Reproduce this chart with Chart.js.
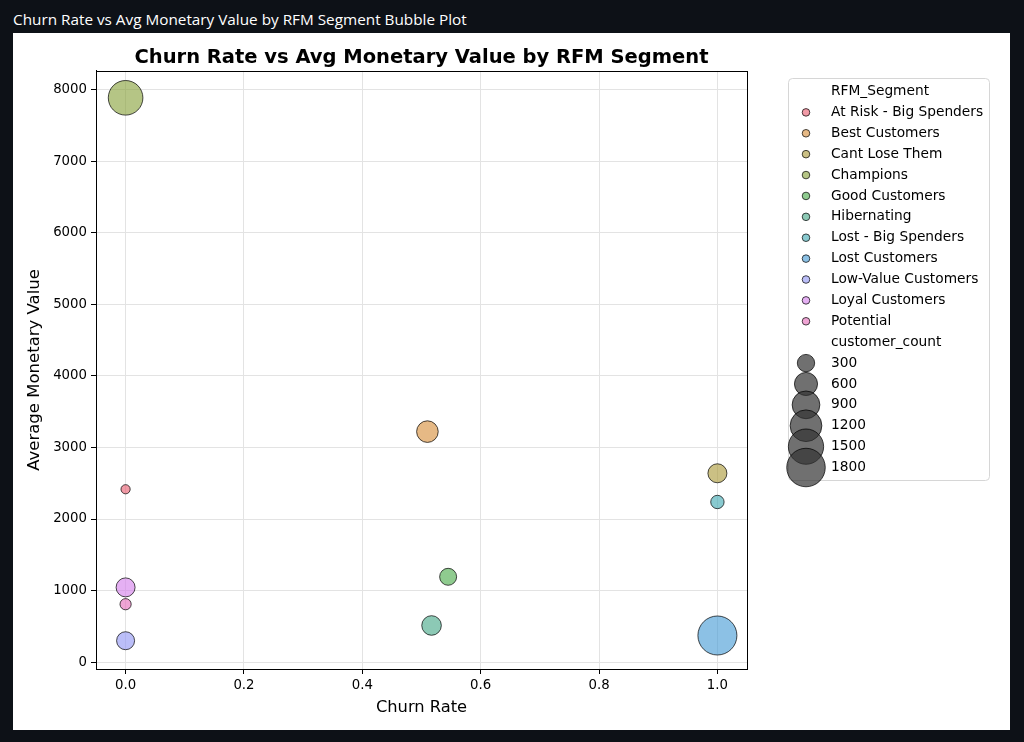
<!DOCTYPE html>
<html>
<head>
<meta charset="utf-8">
<title>RFM Bubble Plot</title>
<script src="https://cdn.jsdelivr.net/npm/chart.js@4.4.1/dist/chart.umd.min.js"></script>
<style>
  html, body { margin: 0; padding: 0; background: #0d1117; }
  body { width: 1024px; height: 742px; position: relative; overflow: hidden; }
  #header {
    position: absolute; left: 13px; top: 9px;
    color: #ffffff; font: 15.3px "Open Sans", "Noto Sans", sans-serif; line-height: 20px;
  }
  #panel { position: absolute; left: 13px; top: 33px; width: 997px; height: 697px; background: #ffffff; }
  #bubbleChart { display: block; }
</style>
</head>
<body>
<div id="header">Churn Rate vs Avg Monetary Value by RFM Segment Bubble Plot</div>
<div id="panel"><canvas id="bubbleChart" width="997" height="697" style="width:997px;height:697px"></canvas></div>

<script>
// Datos
const segments = [
  'At Risk - Big Spenders', 'Best Customers', 'Cant Lose Them', 'Champions',
  'Good Customers', 'Hibernating', 'Lost - Big Spenders', 'Lost Customers',
  'Low-Value Customers', 'Loyal Customers', 'Potential'
];
const churnRate = [0.0, 0.51, 1.0, 0.0, 0.545, 0.517, 1.0, 1.0, 0.0, 0.0, 0.0];
const avgMonetary = [2416, 3221, 2639, 7884, 1193, 513, 2238, 373, 300, 1045, 810];
const customerCount = [15, 513, 377, 1441, 284, 407, 141, 1848, 330, 377, 70];
const segmentColors = [
  '#e8576a', '#d58a33', '#a89632', '#849f33', '#44a845', '#3fa583',
  '#3aa6b0', '#3f98d4', '#8d93f4', '#d47ceb', '#e567b8'
];
const xTicks = [0, 0.2, 0.4, 0.6, 0.8, 1.0];
const yTicks = [0, 1000, 2000, 3000, 4000, 5000, 6000, 7000, 8000];
const sizeLevels = [300, 600, 900, 1200, 1500, 1800];

const ALPHA = 0.6;
const FONT = '"DejaVu Sans", Verdana, sans-serif';

function withAlpha(hex, a) {
  const n = parseInt(hex.slice(1), 16);
  return `rgba(${(n >> 16) & 255}, ${(n >> 8) & 255}, ${n & 255}, ${a})`;
}

// radio visible (px) según customer_count, área proporcional
function bubbleRadius(count) {
  return Math.sqrt(23 + 0.204 * count);
}

const datasets = segments.map((name, i) => ({
  label: name,
  data: [{ x: churnRate[i], y: avgMonetary[i], r: bubbleRadius(customerCount[i]) - 0.5 }],
  backgroundColor: withAlpha(segmentColors[i], ALPHA),
  borderColor: 'rgba(0, 0, 0, 0.7)',
  borderWidth: 1,
  hoverBorderWidth: 1,
  hoverRadius: 0,
  order: segments.length - i
}));

// marco completo del área de dibujo (como los spines de matplotlib)
const framePlugin = {
  id: 'frame',
  afterDatasetsDraw(chart) {
    const { ctx, chartArea: a } = chart;
    ctx.save();
    ctx.strokeStyle = '#000';
    ctx.lineWidth = 1;
    ctx.strokeRect(Math.round(a.left) + 0.5, Math.round(a.top) + 0.5,
      Math.round(a.right - a.left), Math.round(a.bottom - a.top));
    ctx.restore();
  }
};

// leyenda con título de segmentos y tamaños
const legendPlugin = {
  id: 'rfmLegend',
  afterDraw(chart) {
    const ctx = chart.ctx;
    const box = { x: 775.5, y: 45.5, w: 201, h: 402 };
    const markerX = 793, textX = 818, rowY0 = 58.5, rowStep = 20.89;

    ctx.save();
    ctx.beginPath();
    ctx.roundRect(box.x, box.y, box.w, box.h, 4);
    ctx.fillStyle = 'rgba(255,255,255,0.8)';
    ctx.fill();
    ctx.strokeStyle = '#d6d6d6';
    ctx.lineWidth = 1;
    ctx.stroke();

    ctx.font = `13.75px ${FONT}`;
    ctx.fillStyle = '#000';
    ctx.textBaseline = 'middle';
    ctx.textAlign = 'left';

    let row = 0;
    ctx.fillText('RFM_Segment', textX, rowY0 + row * rowStep);
    row++;
    chart.data.datasets.forEach(ds => {
      const y = rowY0 + row * rowStep;
      ctx.beginPath();
      ctx.arc(markerX, y, 3.8, 0, Math.PI * 2);
      ctx.fillStyle = ds.backgroundColor;
      ctx.fill();
      ctx.strokeStyle = ds.borderColor;
      ctx.stroke();
      ctx.fillStyle = '#000';
      ctx.fillText(ds.label, textX, y);
      row++;
    });

    ctx.fillText('customer_count', textX, rowY0 + row * rowStep);
    row++;
    sizeLevels.forEach(level => {
      const y = rowY0 + row * rowStep;
      ctx.beginPath();
      ctx.arc(markerX, y, bubbleRadius(level) - 0.5, 0, Math.PI * 2);
      ctx.fillStyle = 'rgba(51, 51, 51, 0.7)';
      ctx.fill();
      ctx.strokeStyle = 'rgba(0, 0, 0, 0.7)';
      ctx.stroke();
      ctx.fillStyle = '#000';
      ctx.fillText(String(level), textX, y);
      row++;
    });
    ctx.restore();
  }
};

const ctx = document.getElementById('bubbleChart').getContext('2d');
new Chart(ctx, {
  type: 'bubble',
  data: { datasets },
  options: {
    responsive: false,
    animation: false,
    events: [],
    layout: { padding: { top: 0, right: 263, bottom: 0, left: 0 } },
    plugins: {
      legend: { display: false },
      tooltip: { enabled: false },
      title: {
        display: true,
        fullSize: false,
        text: 'Churn Rate vs Avg Monetary Value by RFM Segment',
        color: '#000',
        font: { family: FONT, size: 19.5, weight: 'bold' },
        padding: { top: 13.5, bottom: 1 }
      }
    },
    scales: {
      x: {
        type: 'linear',
        min: -0.05,
        max: 1.05,
        afterBuildTicks: scale => { scale.ticks = xTicks.map(v => ({ value: v })); },
        afterFit: scale => { scale.height = 61; },
        ticks: {
          color: '#000',
          font: { family: FONT, size: 13.3 },
          padding: 4,
          maxRotation: 0,
          callback: v => Number(v).toFixed(1)
        },
        grid: { color: '#e3e3e3', tickColor: '#000', tickLength: 5, lineWidth: 1 },
        border: { display: true, color: '#000', width: 1 },
        title: {
          display: true,
          text: 'Churn Rate',
          color: '#000',
          font: { family: FONT, size: 16.3 },
          padding: { top: 0, bottom: 12.5 }
        }
      },
      y: {
        type: 'linear',
        min: -95,
        max: 8260,
        afterBuildTicks: scale => { scale.ticks = yTicks.map(v => ({ value: v })); },
        afterFit: scale => { scale.width = 83; },
        ticks: {
          color: '#000',
          font: { family: FONT, size: 13.3 },
          padding: 4,
          callback: v => String(v)
        },
        grid: { color: '#e3e3e3', tickColor: '#000', tickLength: 5, lineWidth: 1 },
        border: { display: true, color: '#000', width: 1 },
        title: {
          display: true,
          text: 'Average Monetary Value',
          color: '#000',
          font: { family: FONT, size: 16.5 },
          padding: { top: 12, bottom: 0 }
        }
      }
    }
  },
  plugins: [framePlugin, legendPlugin]
});
</script>
</body>
</html>
